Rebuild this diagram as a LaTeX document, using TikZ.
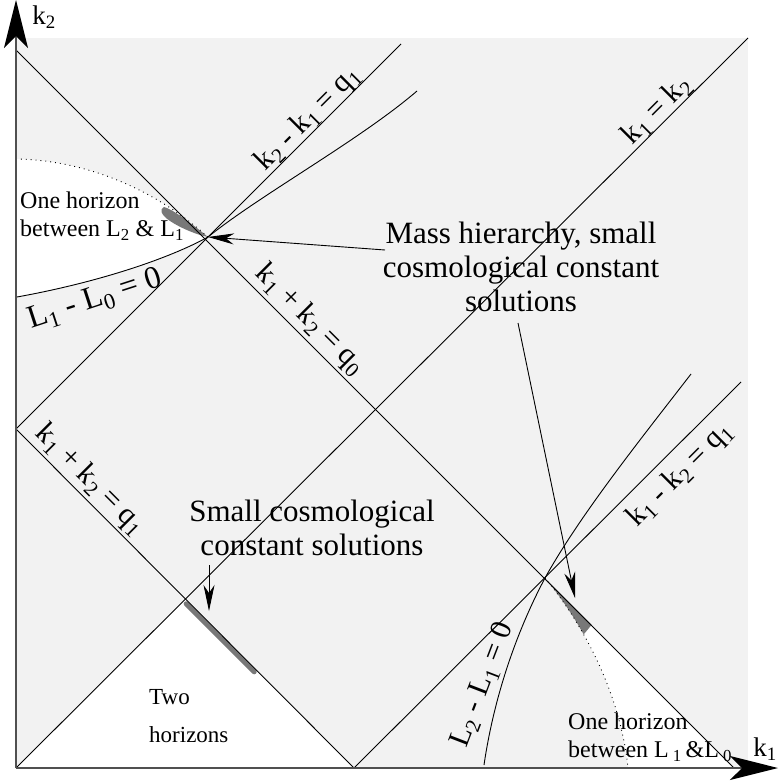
\documentclass[tikz,border=0pt]{standalone}
\usepackage{fontspec}
\setmainfont{Liberation Serif}
\usetikzlibrary{arrows.meta}
\definecolor{bggray}{RGB}{242,242,242}
\definecolor{blobgray}{RGB}{120,120,120}
\definecolor{axisgray}{RGB}{80,80,80}
\begin{document}
\begin{tikzpicture}[x=1pt,y=-1pt,
  thinline/.style={line width=0.9pt},
  dotline/.style={line width=0.9pt, dash pattern=on 0.9pt off 4pt},
  axisline/.style={line width=1.6pt, draw=axisgray, -{Stealth[length=48pt,width=24pt,inset=12pt,color=black]}},
  pointer/.style={line width=0.9pt, -{Stealth[length=26pt,width=11pt,inset=8pt]}},
  biglabel/.style={font=\fontsize{31}{34}\selectfont, align=center, inner sep=0pt},
  linelabel/.style={font=\fontsize{30}{33}\selectfont, inner sep=0pt},
  axislabel/.style={font=\fontsize{27}{30}\selectfont, inner sep=0pt},
  smalllabel/.style={font=\fontsize{24}{28}\selectfont, align=left, inner sep=0pt, anchor=west}]
\useasboundingbox (0,0) rectangle (779,783);
% key points
\coordinate (O) at (16,768);
\coordinate (Xend) at (778,768);
\coordinate (Yend) at (16,0);
\coordinate (Q0a) at (16,50);
\coordinate (Q0b) at (734,768);
\coordinate (Q1L) at (16,429);
\coordinate (Q1B) at (354,768);
\coordinate (Dtop) at (748,38);
\coordinate (Ltop) at (401,44);
\coordinate (Rtop) at (741,382);
\coordinate (A) at (208,237);
\coordinate (B) at (545,578);
\coordinate (C) at (185,599);
% background
\fill[bggray] (16,38) rectangle (748,768);
\fill[white] (16,159) .. controls (80,160) and (150,185) .. (A) .. controls (170,258) and (100,282) .. (16,297) -- cycle;
\fill[white] (O) -- (C) -- (Q1B) -- cycle;
\fill[white] (B) -- (Q0b) -- (628,768) .. controls (620,690) and (580,620) .. (B) -- cycle;
% blobs
\fill[blobgray] (A) .. controls (190,222) and (172,209) .. (164,207) .. controls (159,209) and (161,215) .. (170,221) .. controls (182,229) and (198,235) .. (A) -- cycle;
\begin{scope}
  \clip (B) -- (594,622) -- (584,634) -- (530,634) -- cycle;
  \fill[blobgray] (B) -- (Q0b) -- (628,768) .. controls (620,690) and (580,620) .. (B) -- cycle;
\end{scope}
\draw[blobgray, line width=5pt, line cap=round] (186.2,603.8) -- (254.2,671.8);
% straight lines
\draw[thinline] (Q0a) -- (Q0b);
\draw[thinline] (O) -- (Dtop);
\draw[thinline] (Q1L) -- (Ltop);
\draw[thinline] (Q1L) -- (Q1B);
\draw[thinline] (Q1B) -- (Rtop);
% curves
\draw[thinline] (17,297) .. controls (100,282) and (170,258) .. (A) .. controls (260,195) and (360,140) .. (417,91);
\draw[thinline] (484,765) .. controls (495,690) and (520,625) .. (B) .. controls (580,515) and (640,440) .. (691,374);
\draw[dotline] (16,159) .. controls (80,160) and (150,185) .. (A);
\draw[dotline] (B) .. controls (580,620) and (620,690) .. (628,768);
% axes
\draw[axisline] (O) -- (Xend);
\draw[axisline] (O) -- (Yend);
\node[axislabel] (lk2) at (44,17) {k\textsubscript{2}};
\node[axislabel] (lk1) at (765,749) {k\textsubscript{1}};
% line labels
\node[linelabel, rotate=45] (l1) at (308,119) {k\textsubscript{2} - k\textsubscript{1} = q\textsubscript{1}};
\node[linelabel, rotate=45] (l2) at (657,110) {k\textsubscript{1} = k\textsubscript{2}};
\node[linelabel, rotate=-45] (l3) at (310,320) {k\textsubscript{1} + k\textsubscript{2} = q\textsubscript{0}};
\node[linelabel, rotate=-45] (l4) at (90,480) {k\textsubscript{1} + k\textsubscript{2} = q\textsubscript{1}};
\node[linelabel, rotate=45] (l5) at (680,475) {k\textsubscript{1} - k\textsubscript{2} = q\textsubscript{1}};
\node[linelabel, rotate=69] (l6) at (483,685) {L\textsubscript{2} - L\textsubscript{1} = 0};
\node[linelabel, rotate=18, font=\fontsize{32}{34}\selectfont] (l7) at (95,300) {L\textsubscript{1} - L\textsubscript{0} = 0};
% text labels
\node[biglabel] (mass) at (521,267) {Mass hierarchy, small\\cosmological constant\\solutions};
\node[biglabel] (small) at (312,528) {Small cosmological\\constant solutions};
\node[smalllabel] (h1) at (20,216) {One horizon\\between L\textsubscript{2} \& L\textsubscript{1}};
\node[smalllabel] (h2) at (568,737) {One horizon\\between L\,\textsubscript{1}\,\&L\,\textsubscript{0}};
\node[smalllabel, font=\fontsize{23}{38}\selectfont] (two) at (149,716) {Two\\horizons};
% pointers
\coordinate (m1) at (385,250);
\coordinate (m2) at (518,323);
\coordinate (bt) at (575,598);
\coordinate (s1) at (209,565);
\coordinate (sT) at (209,611);
\draw[pointer] (m1) -- (A);
\draw[pointer] (m2) -- (bt);
\draw[pointer] (s1) -- (sT);
\end{tikzpicture}
\end{document}
